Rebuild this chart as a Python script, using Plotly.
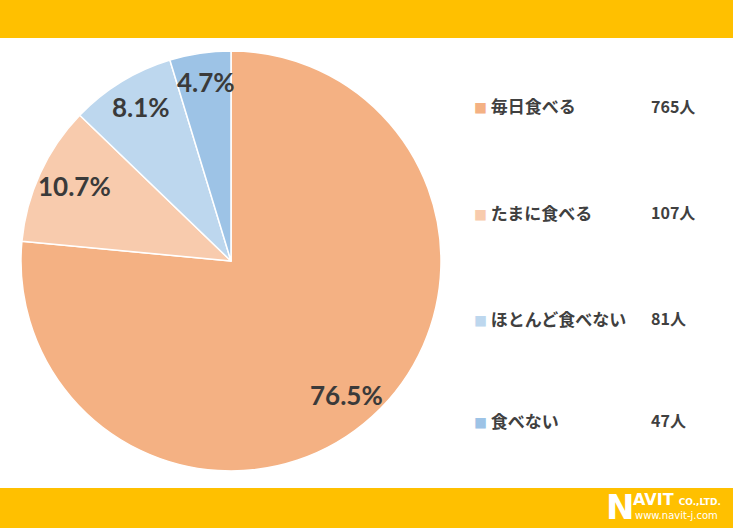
import math
import plotly.graph_objects as go

categories = ["毎日食べる", "たまに食べる", "ほとんど食べない", "食べない"]
counts = [765, 107, 81, 47]
percent_labels = ["76.5%", "10.7%", "8.1%", "4.7%"]
colors = ["#F4B183", "#F8CBAD", "#BDD7EE", "#9DC3E6"]

W, H = 733, 528
cx, cy, r = 231, 261, 210

fig = go.Figure(go.Pie(
    labels=categories, values=counts, sort=False, direction="clockwise",
    rotation=0, textinfo="none", hoverinfo="skip", showlegend=False,
    marker=dict(colors=colors, line=dict(color="white", width=1.5)),
    domain=dict(x=[(cx - r) / W, (cx + r) / W], y=[1 - (cy + r) / H, 1 - (cy - r) / H]),
))

ann = []
total = sum(counts)
cum = 0
for v, lab in zip(counts, percent_labels):
    mid = (cum + v / 2) / total * 2 * math.pi
    cum += v
    px = cx + math.sin(mid) * r * 0.82
    py = cy - math.cos(mid) * r * 0.86
    ann.append(dict(x=px / W, y=1 - py / H, xref="paper", yref="paper", text=f"<b>{lab}</b>",
                    xanchor="center", yanchor="middle",
                    showarrow=False, font=dict(family="Lato, Open Sans, sans-serif", size=26, color="#3A3A3A")))

row_y = [106, 212, 318, 420]
for cat, n, c, yy in zip(categories, counts, colors, row_y):
    ann.append(dict(x=472 / W, y=1 - yy / H, xref="paper", yref="paper", xanchor="left", yanchor="middle",
                    text=f"<span style='color:{c};font-size:13px'>■</span> <b>{cat}</b>", showarrow=False,
                    font=dict(family="Noto Sans CJK JP", size=17, color="#404040")))
    ann.append(dict(x=649 / W, y=1 - yy / H, xref="paper", yref="paper", xanchor="left", yanchor="middle",
                    text=f"<b>{n}人</b>", showarrow=False,
                    font=dict(family="Noto Sans CJK JP", size=16, color="#404040")))

# logo
ann.append(dict(x=604 / W, y=1 - 507 / H, xref="paper", yref="paper", xanchor="left", yanchor="middle",
                text="<b>N</b>", showarrow=False, font=dict(family="DejaVu Sans", size=34, color="white")))
ann.append(dict(x=631 / W, y=1 - 499 / H, xref="paper", yref="paper", xanchor="left", yanchor="middle",
                text="<b>AVIT</b> <span style='font-size:9px'><b>CO.,LTD.</b></span>", showarrow=False,
                font=dict(family="DejaVu Sans", size=16, color="white")))
ann.append(dict(x=633 / W, y=1 - 515 / H, xref="paper", yref="paper", xanchor="left", yanchor="middle",
                text="www.navit-j.com", showarrow=False,
                font=dict(family="DejaVu Sans", size=10, color="white")))

shapes = [
    dict(type="rect", xref="paper", yref="paper", x0=0, x1=1, y0=1 - 38 / H, y1=1,
         fillcolor="#FFC000", line=dict(width=0), layer="below"),
    dict(type="rect", xref="paper", yref="paper", x0=0, x1=1, y0=0, y1=1 - 488 / H,
         fillcolor="#FFC000", line=dict(width=0), layer="below"),
]

fig.update_layout(width=W, height=H, margin=dict(l=0, r=0, t=0, b=0),
                  paper_bgcolor="white", plot_bgcolor="white",
                  annotations=ann, shapes=shapes)
fig.write_html("out.html", config={"displayModeBar": False})

with open("out.html", encoding="utf-8") as f:
    html = f.read()
html = html.replace("<head>", "<head><style>html,body{margin:0;padding:0;overflow:hidden}</style>", 1)
with open("out.html", "w", encoding="utf-8") as f:
    f.write(html)
